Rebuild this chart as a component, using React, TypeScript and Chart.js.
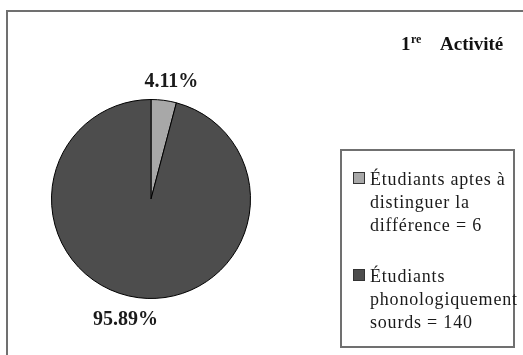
import React, { useEffect, useRef } from "react";
import { Chart, registerables } from "chart.js";

Chart.register(...registerables);

// ---- Data ----
const categories = [
  "Étudiants aptes à distinguer la différence = 6",
  "Étudiants phonologiquement sourds = 140",
];
const legendLines = [
  ["Étudiants aptes à", "distinguer la", "différence = 6"],
  ["Étudiants", "phonologiquement", "sourds = 140"],
];
const values = [6, 140];
const sliceColors = ["#a8a8a8", "#4d4d4d"];
const titleNumber = "1";
const titleSup = "re";
const titleWord = "Activité";

const SERIF = "'Liberation Serif', 'DejaVu Serif', serif";

const decorPlugin = {
  id: "decor",
  beforeDraw(chart: any) {
    const ctx = chart.ctx as CanvasRenderingContext2D;
    ctx.save();
    ctx.fillStyle = "#ffffff";
    ctx.fillRect(0, 0, chart.width, chart.height);
    ctx.strokeStyle = "#707070";
    ctx.lineWidth = 2;
    ctx.beginPath();
    ctx.moveTo(7, chart.height + 5);
    ctx.lineTo(7, 11);
    ctx.lineTo(chart.width + 5, 11);
    ctx.stroke();
    ctx.restore();
  },
  afterDraw(chart: any) {
    const ctx = chart.ctx as CanvasRenderingContext2D;
    const meta = chart.getDatasetMeta(0);
    const data = chart.data.datasets[0].data as number[];
    const total = data.reduce((a, b) => a + b, 0);
    const offsets = [5, -10];
    ctx.save();
    // percentage labels
    ctx.fillStyle = "#1a1a1a";
    ctx.font = `bold 20px ${SERIF}`;
    ctx.textAlign = "center";
    ctx.textBaseline = "alphabetic";
    meta.data.forEach((arc: any, i: number) => {
      const p = arc.getProps(["x", "y", "startAngle", "endAngle", "outerRadius"], true);
      const mid = (p.startAngle + p.endAngle) / 2;
      const r = p.outerRadius + 20;
      const pct = ((data[i] / total) * 100).toFixed(2) + "%";
      ctx.fillText(pct, p.x + Math.cos(mid) * r + offsets[i], p.y + Math.sin(mid) * r + 7);
    });

    // legend box
    ctx.strokeStyle = "#707070";
    ctx.lineWidth = 2;
    ctx.strokeRect(341, 150, 173, 197);
    const itemTops = [185, 282];
    const lineH = 23;
    ctx.font = `18px ${SERIF}`;
    (ctx as any).letterSpacing = "0.8px";
    ctx.textAlign = "left";
    legendLines.forEach((lines, i) => {
      const base = itemTops[i];
      ctx.fillStyle = sliceColors[i];
      ctx.fillRect(353, base - 13, 12, 12);
      ctx.strokeStyle = "#333";
      ctx.lineWidth = 1;
      ctx.strokeRect(353.5, base - 12.5, 11, 11);
      ctx.fillStyle = "#1a1a1a";
      lines.forEach((ln, j) => {
        ctx.fillText(ln, 370, base + j * lineH);
      });
    });
    (ctx as any).letterSpacing = "0px";

    // title
    ctx.fillStyle = "#111";
    ctx.font = `bold 19px ${SERIF}`;
    ctx.fillText(titleNumber, 401, 50);
    ctx.font = `bold 12px ${SERIF}`;
    ctx.fillText(titleSup, 411, 43);
    ctx.font = `bold 19px ${SERIF}`;
    ctx.fillText(titleWord, 440, 50);
    ctx.restore();
  },
};

export default function App() {
  const ref = useRef<HTMLCanvasElement | null>(null);
  useEffect(() => {
    if (!ref.current) return;
    const chart = new Chart(ref.current, {
      type: "pie",
      data: {
        labels: categories,
        datasets: [
          {
            data: values,
            backgroundColor: sliceColors,
            borderColor: "#000000",
            borderWidth: 1,
          },
        ],
      },
      options: {
        responsive: false,
        animation: false,
        devicePixelRatio: 1,
        layout: { padding: { left: 51, right: 272, top: 99, bottom: 56 } },
        plugins: {
          legend: { display: false },
          tooltip: { enabled: false },
          title: { display: false },
        },
      },
      plugins: [decorPlugin],
    });
    return () => chart.destroy();
  }, []);
  return (
    <div
      style={{
        position: "fixed",
        left: 0,
        top: 0,
        width: 523,
        height: 355,
        overflow: "hidden",
        background: "#fff",
      }}
    >
      <canvas ref={ref} width={523} height={355} style={{ display: "block" }} />
    </div>
  );
}
